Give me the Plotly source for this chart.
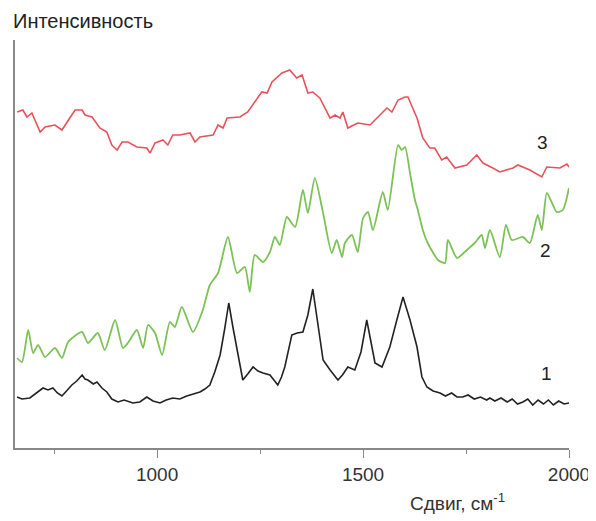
import plotly.graph_objects as go

# Spectrum 1 (black)
x1 = [660, 672, 691, 705, 723, 735, 747, 758, 769, 780, 793, 805, 818, 825, 832, 845, 854, 866, 878, 890, 905, 920, 941, 958, 975, 990, 1007, 1022, 1038, 1055, 1072, 1088, 1104, 1116, 1128, 1140, 1153, 1164, 1174, 1184, 1196, 1208, 1220, 1233, 1245, 1257, 1274, 1293, 1302, 1310, 1327, 1340, 1354, 1366, 1378, 1390, 1403, 1420, 1439, 1450, 1463, 1480, 1495, 1509, 1519, 1529, 1546, 1565, 1582, 1597, 1614, 1631, 1643, 1655, 1670, 1687, 1700, 1715, 1728, 1742, 1755, 1770, 1785, 1800, 1808, 1820, 1835, 1850, 1862, 1875, 1888, 1900, 1912, 1925, 1938, 1950, 1962, 1975, 1988, 2000]
y1 = [50, 48, 49, 53, 59, 57, 59, 54, 51, 56, 62, 66, 72, 68, 67, 63, 65, 59, 55, 48, 45, 47, 44, 45, 50, 46, 44, 47, 49, 48, 51, 53, 55, 58, 62, 75, 92, 118, 144, 120, 92, 67, 73, 80, 76, 74, 72, 62, 70, 80, 112, 114, 115, 132, 158, 125, 87, 77, 67, 72, 80, 77, 95, 127, 104, 84, 80, 100, 127, 150, 127, 100, 70, 60, 56, 54, 51, 54, 50, 50, 52, 48, 50, 47, 49, 46, 49, 45, 48, 43, 45, 48, 42, 47, 43, 47, 42, 46, 43, 44]

# Spectrum 2 (green)
x2 = [660, 672, 687, 699, 711, 728, 752, 769, 784, 818, 832, 856, 873, 898, 917, 929, 951, 966, 978, 995, 1012, 1031, 1043, 1060, 1087, 1111, 1128, 1148, 1172, 1194, 1213, 1225, 1237, 1257, 1274, 1286, 1298, 1315, 1335, 1354, 1366, 1383, 1403, 1424, 1436, 1449, 1456, 1473, 1487, 1500, 1512, 1524, 1548, 1560, 1585, 1594, 1602, 1614, 1626, 1633, 1645, 1657, 1682, 1699, 1706, 1728, 1752, 1771, 1788, 1796, 1808, 1832, 1847, 1861, 1888, 1905, 1924, 1934, 1946, 1961, 1970, 1985, 2000]
y2 = [89, 85, 117, 94, 102, 90, 99, 89, 105, 115, 104, 114, 97, 127, 99, 104, 117, 99, 122, 114, 92, 125, 120, 140, 115, 137, 162, 174, 210, 174, 180, 155, 192, 185, 195, 210, 202, 230, 220, 257, 234, 269, 234, 194, 207, 190, 204, 212, 195, 229, 235, 217, 255, 237, 302, 297, 300, 274, 247, 237, 217, 204, 187, 184, 207, 189, 197, 204, 212, 199, 217, 190, 222, 207, 210, 204, 232, 217, 254, 242, 235, 237, 259]

# Spectrum 3 (red)
x3 = [660, 674, 684, 696, 716, 728, 752, 769, 788, 801, 818, 825, 842, 861, 878, 890, 903, 915, 929, 951, 975, 983, 995, 1014, 1026, 1038, 1055, 1080, 1092, 1104, 1136, 1148, 1160, 1170, 1201, 1220, 1254, 1267, 1279, 1303, 1322, 1339, 1352, 1366, 1378, 1395, 1420, 1432, 1444, 1451, 1463, 1487, 1517, 1541, 1558, 1570, 1585, 1602, 1609, 1631, 1645, 1662, 1674, 1691, 1703, 1723, 1752, 1776, 1791, 1815, 1832, 1864, 1876, 1905, 1934, 1946, 1978, 1995, 2000]
y3 = [335, 337, 330, 334, 315, 320, 322, 317, 329, 337, 337, 332, 330, 319, 315, 302, 297, 305, 305, 300, 299, 294, 304, 307, 302, 312, 312, 314, 305, 310, 312, 322, 319, 329, 330, 335, 355, 354, 365, 374, 377, 369, 372, 354, 355, 349, 329, 332, 329, 335, 319, 324, 322, 332, 339, 335, 347, 350, 350, 329, 309, 299, 299, 287, 290, 279, 282, 292, 284, 279, 275, 279, 282, 277, 270, 280, 279, 283, 280]

curve_labels = ["1", "2", "3"]
label_x = [1946, 1943, 1936]
label_y = [74, 197, 305]

FONT = "Liberation Sans, Arial, sans-serif"

fig = go.Figure()
fig.add_trace(go.Scatter(x=x1, y=y1, mode="lines", line=dict(color="#222222", width=1.6), showlegend=False))
fig.add_trace(go.Scatter(x=x2, y=y2, mode="lines", line=dict(color="#7cc257", width=1.8, shape="spline", smoothing=0.6), showlegend=False))
fig.add_trace(go.Scatter(x=x3, y=y3, mode="lines", line=dict(color="#e8525a", width=1.6), showlegend=False))

for t, lx, ly in zip(curve_labels, label_x, label_y):
    fig.add_annotation(x=lx, y=ly, text=t, showarrow=False, xref="x", yref="y",
                       font=dict(family=FONT, size=19, color="#222222"))

# plot area in page pixels: left 15, right 569, top 40, bottom 448 (page has 8px body margin)
PW, PH = 554, 408
fig.add_annotation(x=(11 - 15) / PW, y=(448 - 21) / PH, xref="paper", yref="paper",
                   xanchor="left", yanchor="middle", text="Интенсивность", showarrow=False,
                   font=dict(family=FONT, size=20, color="#222222"))
fig.add_annotation(x=(457 - 15) / PW, y=(448 - 502) / PH, xref="paper", yref="paper",
                   xanchor="center", yanchor="middle", text="Сдвиг, см<sup>-1</sup>", showarrow=False,
                   font=dict(family=FONT, size=19, color="#333333"))

fig.update_layout(
    width=588, height=513,
    margin=dict(l=7, r=27, t=32, b=73, autoexpand=False),
    plot_bgcolor="white", paper_bgcolor="white",
    font=dict(family=FONT, size=18, color="#333333"),
    xaxis=dict(range=[655, 2000], showline=True, linecolor="#888888", linewidth=1.5,
               showgrid=False, zeroline=False, ticks="outside", ticklen=8, tickwidth=1.2,
               tickcolor="#888888", tick0=0, dtick=500,
               tickfont=dict(family=FONT, size=19, color="#333333"),
               minor=dict(ticks="outside", ticklen=4, dtick=250, tick0=0, tickcolor="#888888", showgrid=False)),
    yaxis=dict(range=[-1, 407], showline=True, linecolor="#888888", linewidth=1.5,
               showgrid=False, zeroline=False, showticklabels=False, ticks=""),
)

fig.write_html("out.html")
